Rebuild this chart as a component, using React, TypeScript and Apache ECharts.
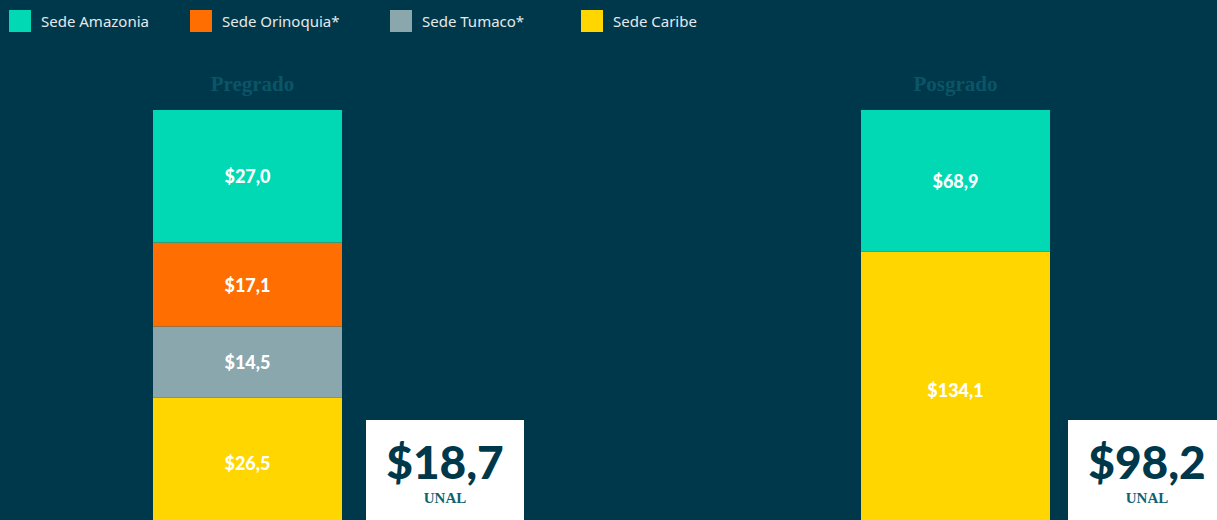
import React, { useEffect, useRef } from "react";
import * as echarts from "echarts";

const categories = ["Pregrado", "Posgrado"];
const seriesNames = ["Sede Amazonia", "Sede Orinoquia*", "Sede Tumaco*", "Sede Caribe"];
const amazonia = [27.0, 68.9];
const orinoquia = [17.1, 0];
const tumaco = [14.5, 0];
const caribe = [26.5, 134.1];
const unalValues = [18.7, 98.2];
const unalLabel = "UNAL";

const colors = ["#00D9B3", "#FF6E00", "#89A7AD", "#FFD600"];
const BG = "#00384B";

const fmt = (v: number) => "$" + v.toFixed(1).replace(".", ",");

export default function App() {
  const ref = useRef<HTMLDivElement>(null);
  useEffect(() => {
    if (!ref.current) return;
    const chart = echarts.init(ref.current, undefined, { renderer: "svg" });
    const values = [amazonia, orinoquia, tumaco, caribe];
    const totals = categories.map((_, i) => values.reduce((s, arr) => s + arr[i], 0));
    const gridPos = [
      { left: 153, width: 189 },
      { left: 861, width: 189 },
    ];
    const legendLeft = [9, 190, 390, 581];
    const series: any[] = [];
    categories.forEach((_, gi) => {
      for (let si = seriesNames.length - 1; si >= 0; si--) {
        const name = seriesNames[si];
        const raw = values[si][gi];
        series.push({
          type: "bar",
          name,
          xAxisIndex: gi,
          yAxisIndex: gi,
          stack: "s" + gi,
          barWidth: "100%",
          itemStyle: { color: colors[si] },
          data: [{ value: raw > 0 ? (raw / totals[gi]) * 100 : 0, raw }],
          label: {
            show: raw > 0,
            position: "inside",
            color: "#ffffff",
            fontFamily: "Lato",
            fontWeight: 900,
            fontSize: 18,
            formatter: (p: any) => fmt(p.data.raw),
          },
        });
      }
    });
    const boxes = [
      { x: 366, w: 158, cx: 445 },
      { x: 1068, w: 160, cx: 1147 },
    ];
    const graphic: any[] = [];
    boxes.forEach((b, i) => {
      graphic.push({
        type: "rect",
        shape: { x: b.x, y: 420, width: b.w, height: 110 },
        style: { fill: "#ffffff" },
        z: 10,
      });
      graphic.push({
        type: "text",
        x: b.cx,
        y: 461,
        style: {
          text: fmt(unalValues[i]),
          fill: BG,
          font: "900 46px Lato",
          textAlign: "center",
          textVerticalAlign: "middle",
        },
        z: 11,
      });
      graphic.push({
        type: "text",
        x: b.cx,
        y: 498,
        style: {
          text: unalLabel,
          fill: "#0E6272",
          font: "bold 15px 'Liberation Serif'",
          textAlign: "center",
          textVerticalAlign: "middle",
        },
        z: 11,
      });
    });
    chart.setOption({
      animation: false,
      backgroundColor: BG,
      legend: seriesNames.map((n, i) => ({
        data: [n],
        left: legendLeft[i],
        top: 10,
        padding: 0,
        itemWidth: 22,
        itemHeight: 22,
        icon: "rect",
        selectedMode: false,
        textStyle: {
          color: "#E6E9EA",
          fontSize: 15,
          fontFamily: "Noto Sans",
          padding: [0, 0, 0, 5],
        },
      })),
      grid: gridPos.map((g) => ({ left: g.left, width: g.width, top: 110, bottom: 0 })),
      xAxis: categories.map((c, i) => ({
        type: "category",
        gridIndex: i,
        position: "top",
        data: [c],
        axisLine: { show: false },
        axisTick: { show: false },
        axisLabel: {
          color: "#0B5568",
          fontFamily: "Liberation Serif",
          fontWeight: "bold",
          fontSize: 21,
          margin: 16,
          padding: i === 0 ? [0, 0, 0, 10] : 0,
        },
      })),
      yAxis: categories.map((_, i) => ({
        type: "value",
        gridIndex: i,
        min: 0,
        max: 100,
        show: false,
      })),
      series,
      graphic,
    });
    return () => chart.dispose();
  }, []);
  return (
    <div
      style={{
        position: "fixed",
        left: 0,
        top: 0,
        width: 1217,
        height: 520,
        overflow: "hidden",
        background: BG,
      }}
    >
      <div ref={ref} style={{ width: 1217, height: 528 }} />
    </div>
  );
}
